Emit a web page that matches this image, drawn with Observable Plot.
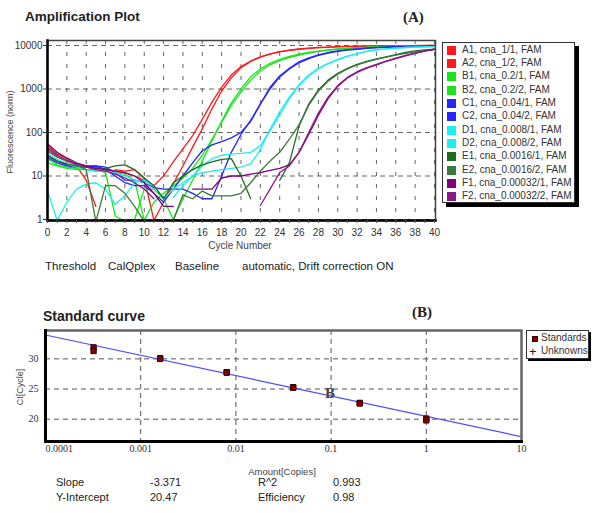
<!DOCTYPE html>
<html><head><meta charset="utf-8">
<script src="https://cdn.jsdelivr.net/npm/d3@7"></script>
<script src="https://cdn.jsdelivr.net/npm/@observablehq/plot@0.6"></script>
<style>
body{margin:0;background:#fff;}
#root{position:relative;width:592px;height:513px;overflow:hidden;font-family:"Liberation Sans",Arial,sans-serif;color:#222;}
.abs{position:absolute;white-space:nowrap;line-height:1;}
.serif{font-family:"Liberation Serif","Times New Roman",serif;}
.legA{position:absolute;left:442px;top:42px;width:131px;height:159px;border:1px solid #333;background:#fff;box-shadow:4px 4px 0 #000;}
.legB{position:absolute;left:526px;top:330px;width:61px;height:27px;border:1px solid #333;background:#fff;box-shadow:2px 2px 0 #000;}
</style></head><body><div id="root"></div>
<script>
// ---------- Panel A data ----------
const cycles = d3.range(0, 41);
const wellNames = ["A1","A2","B1","B2","C1","C2","D1","D2","E1","E2","F1","F2"];
const wellLabels = ["A1, cna_1/1, FAM","A2, cna_1/2, FAM","B1, cna_0.2/1, FAM","B2, cna_0.2/2, FAM","C1, cna_0.04/1, FAM","C2, cna_0.04/2, FAM","D1, cna_0.008/1, FAM","D2, cna_0.008/2, FAM","E1, cna_0.0016/1, FAM","E2, cna_0.0016/2, FAM","F1, cna_0.00032/1, FAM","F2, cna_0.00032/2, FAM"];
const wellColors = ["#ff1a1a","#ff1a1a","#19e619","#19e619","#2626ff","#2626ff","#19f0f0","#19f0f0","#1f6b1f","#3a7a3a","#800080","#8a1a8a"];
const A1 = [50,32,25,17,8,2,null,14,13,14,9,0.95,2.5,6.6,17,46,121,350,900,1800,3100,4300,5400,6300,7100,7700,8200,8600,8900,9100,9300,9450,9550,9650,9700,9750,9800,9850,9900,9950,10000];
const A2 = [38,27,22,19,17,16,14,13,12,10,8,6,10,21,42,85,200,500,1100,2100,3300,4400,5500,6400,7200,7800,8300,8700,9000,9200,9400,9500,9600,9700,9750,9800,9850,9900,9950,10000,10050];
const B1 = [20,17,15,14,14,13,13,12,11,8,0.95,2.5,4,6,9,15,30,70,170,420,850,1600,2600,3600,4500,5300,6000,6700,7300,7800,8200,8600,8900,9100,9300,9450,9550,9650,9750,9800,9850];
const B2 = [25,18,16,15,14,14,12,1.2,0.9,1,5,5,3,1,3,8,22,65,180,480,1000,1900,2900,3900,4800,5600,6300,6900,7400,7900,8300,8600,8900,9100,9300,9450,9550,9650,9750,9800,9850];
const C1 = [30,22,18,16,16,17,16,12,8,8,7,5.4,5,5,5,4,3,3,10,35,90,190,450,1100,2000,3000,4200,5200,6100,6900,7500,8000,8400,8700,9000,9200,9400,9500,9600,9700,9800];
const C2 = [27,20,17,16,17,17,14,10,7,6,6,4,2.5,5,10,20,38,52,62,75,100,180,450,1000,1900,2900,4000,5000,5900,6700,7300,7800,8200,8600,8900,9100,9300,9450,9550,9650,9750];
const D1 = [4.6,0.95,2.5,5,6.5,7,5,2.2,3.5,7,8,6,null,3.2,6,10,17,25,30,32,33,35,50,110,250,600,1200,2000,2900,3800,4700,5600,6400,7300,7900,8400,8700,9000,9200,9300,9400];
const D2 = [35,24,19,16,14,13,13,12,10,8,7,6,3,5,7,10,12,13,14,15,16,19,40,120,300,650,1250,2100,3000,3900,4800,5700,6500,7300,7900,8400,8700,9000,9200,9300,9400];
const E1 = [30,22,19,17,16,15,15,17,18,14,9,6,3,7,10,14,18,21,24,25,10,3,null,null,8,20,140,450,950,1600,2300,3000,3700,4300,4900,5500,6200,6900,7500,7900,8200];
const E2 = [42,28,22,18,14,0.9,6,6,4,2,0.9,null,null,0.95,3.7,3,4.5,3.5,3.5,3.5,4,7,13,22,35,70,150,420,900,1500,2200,2900,3600,4200,4800,5400,6000,6600,7100,7600,8000];
const F1 = [55,35,26,20,17,15,14,13,12,10,7,4,2,2,null,5,5,5,9,10,10,11,12,13.5,15,18,35,90,250,600,1150,1800,2400,3000,3600,4300,5000,5800,6600,7400,8200];
const F2 = [45,30,23,19,16,14,13,11,9,7,5,3,null,null,null,null,null,null,null,null,null,null,2.1,5,12,17,35,100,280,650,1200,1850,2500,3100,3700,4400,5100,5900,6700,7500,8300];
const xTicksA = d3.range(0, 41, 2);
const xMinorA = d3.range(0, 41, 1);
const yTicksA = [1, 10, 100, 1000, 10000];

// ---------- Panel B data ----------
const stdAmount = [0.00032,0.00032,0.0016,0.0016,0.008,0.008,0.04,0.04,0.2,0.2,1,1];
const stdCt = [31.9,31.3,30.1,30.0,27.8,27.7,25.3,25.2,22.7,22.6,20.1,19.8];
const slope = -3.371, intercept = 20.47;
const lineAmount = [0.0001, 10];
const xTicksB = [0.0001, 0.001, 0.01, 0.1, 1, 10];
const xTickLabelsB = ["0.0001","0.001","0.01","0.1","1","10"];
const yTicksB = [20, 25, 30];
const statsNames = ["Slope","Y-Intercept","R^2","Efficiency"];
const statsValues = ["-3.371","20.47","0.993","0.98"];

// ---------- build ----------
const root = document.getElementById("root");
function txt(s, css, cls){const d=document.createElement("div");d.className="abs"+(cls?" "+cls:"");d.textContent=s;d.style.cssText=css;root.appendChild(d);return d;}
function place(el, left, top){const w=document.createElement("div");w.style.cssText=`position:absolute;left:${left}px;top:${top}px;`;w.appendChild(el);root.appendChild(w);}

const series = [A1,A2,B1,B2,C1,C2,D1,D2,E1,E2,F1,F2];
const ampData = [];
series.forEach((arr, k) => arr.forEach((v, i) => ampData.push({well: wellNames[k], cycle: cycles[i], value: v})));

const plotA = Plot.plot({
  width: 445, height: 240, marginLeft: 47, marginRight: 10, marginTop: 10, marginBottom: 50,
  x: {domain: [0, 40], range: [47, 434], label: null},
  y: {type: "log", domain: [1, 10000], range: [189, 15], label: null},
  color: {domain: wellNames, range: wellColors},
  style: {fontFamily: "Liberation Sans, Arial, sans-serif", fontSize: "10px", color: "#333", background: "transparent", overflow: "visible"},
  marks: [
    Plot.gridX(xTicksA, {stroke: "#666", strokeOpacity: 1, strokeDasharray: "4,8", strokeWidth: 1}),
    Plot.gridY(yTicksA, {stroke: "#666", strokeOpacity: 1, strokeDasharray: "5,4", strokeWidth: 1}),
    Plot.line(ampData, {x: "cycle", y: "value", z: "well", stroke: "well", strokeWidth: 1.3, clip: true}),
    Plot.frame({stroke: "#444", strokeWidth: 1.5}),
    Plot.frame({anchor: "left", stroke: "#000", strokeWidth: 2.5}),
    Plot.frame({anchor: "bottom", stroke: "#000", strokeWidth: 2.5}),
    Plot.axisY(yTicksA, {tickFormat: d => String(d), tickSize: 4, tickPadding: 1, fontSize: 10, stroke: "#333"}),
    Plot.axisX(xMinorA, {tickFormat: () => "", tickSize: 3, tickPadding: 0, stroke: "#555"}),
    Plot.axisX(xTicksA, {tickSize: 0, tickPadding: 8, fontSize: 10})
  ]
});
place(plotA, 0, 30);

const standards = stdAmount.map((a, i) => ({amount: a, ct: stdCt[i]}));
const regLine = lineAmount.map(a => ({amount: a, ct: slope * Math.log10(a) + intercept}));
const labB = new Map(xTicksB.map((t, i) => [t, xTickLabelsB[i]]));

const plotB = Plot.plot({
  width: 530, height: 160, marginLeft: 45, marginRight: 9, marginTop: 10, marginBottom: 39,
  x: {type: "log", domain: [0.0001, 10], label: null},
  y: {domain: [16.3, 34.7], label: null},
  style: {fontFamily: "Liberation Serif, Times New Roman, serif", fontSize: "10px", color: "#333", background: "transparent", overflow: "visible"},
  marks: [
    Plot.gridX(xTicksB, {stroke: "#555", strokeOpacity: 1, strokeDasharray: "5,4"}),
    Plot.gridY(yTicksB, {stroke: "#555", strokeOpacity: 1, strokeDasharray: "5,4"}),
    Plot.line(regLine, {x: "amount", y: "ct", stroke: "#4d4dff", strokeWidth: 1.2, clip: true}),
    Plot.dot(standards, {x: "amount", y: "ct", symbol: "square", r: 3, fill: "#8b0000", stroke: "#300", strokeWidth: 1}),
    Plot.frame({stroke: "#666", strokeWidth: 2.5}),
    Plot.frame({anchor: "left", stroke: "#000", strokeWidth: 3}),
    Plot.frame({anchor: "bottom", stroke: "#000", strokeWidth: 3}),
    Plot.axisY(yTicksB, {tickSize: 0, tickPadding: 7, fontSize: 10}),
    Plot.axisX(xTicksB.slice(0, 1), {tickSize: 0, tickPadding: 3, fontSize: 10, textAnchor: "start", tickFormat: d => labB.get(d)}),
    Plot.axisX(xTicksB.slice(1), {tickSize: 0, tickPadding: 3, fontSize: 10, tickFormat: d => labB.get(d)})
  ]
});
place(plotB, 0, 320);

// ---------- texts ----------
txt("Amplification Plot", "left:25px;top:10px;font-size:13.5px;font-weight:bold;color:#222;");
txt("(A)", "left:403px;top:10px;font-size:15px;font-weight:bold;color:#222;", "serif");
txt("Fluorescence (norm)", "left:10px;top:132px;font-size:9px;color:#444;transform:translate(-50%,-50%) rotate(-90deg);");
txt("Cycle Number", "left:240px;top:246px;font-size:10px;color:#444;transform:translate(-50%,-50%);");
txt("Threshold", "left:45px;top:261px;font-size:11.5px;color:#222;");
txt("CalQplex", "left:108px;top:261px;font-size:11.5px;color:#222;");
txt("Baseline", "left:175px;top:261px;font-size:11.5px;color:#222;");
txt("automatic, Drift correction ON", "left:242px;top:261px;font-size:11.5px;color:#222;");

const legA = document.createElement("div"); legA.className = "legA"; root.appendChild(legA);
wellLabels.forEach((lab, i) => {
  const y = 49.3 + i * 13.3 - 42;
  const sw = document.createElement("div");
  sw.style.cssText = `position:absolute;left:4px;top:${y - 4.5}px;width:9px;height:9px;background:${wellColors[i]};`;
  legA.appendChild(sw);
  const t = document.createElement("div");
  t.className = "abs"; t.textContent = lab;
  t.style.cssText = `left:19px;top:${y - 5.5}px;font-size:10px;color:#333;`;
  legA.appendChild(t);
});

txt("Standard curve", "left:43px;top:309px;font-size:14px;font-weight:bold;color:#222;");
txt("(B)", "left:412px;top:305px;font-size:15px;font-weight:bold;color:#222;", "serif");
txt("Ct[Cycle]", "left:20px;top:387px;font-size:9px;color:#444;transform:translate(-50%,-50%) rotate(-90deg);");
txt("Amount[Copies]", "left:282px;top:472px;font-size:9.5px;color:#444;transform:translate(-50%,-50%);");
txt("B", "left:325px;top:386px;font-size:15px;font-weight:bold;color:#444;", "serif");

const legB = document.createElement("div"); legB.className = "legB"; root.appendChild(legB);
legB.innerHTML = `<div style="position:absolute;left:5px;top:5px;width:4px;height:4px;background:#8b0000;border:1px solid #300;"></div>
<div class="abs" style="left:14px;top:2px;font-size:10px;color:#333;">Standards</div>
<div class="abs" style="left:2px;top:14px;font-size:13px;color:#222;">+</div>
<div class="abs" style="left:14px;top:15px;font-size:10px;color:#333;">Unknowns</div>`;

const statX = [56, 150, 258, 333];
txt(statsNames[0], `left:${statX[0]}px;top:477px;font-size:11px;`);
txt(statsValues[0], `left:${statX[1]}px;top:477px;font-size:11px;`);
txt(statsNames[2], `left:${statX[2]}px;top:477px;font-size:11px;`);
txt(statsValues[2], `left:${statX[3]}px;top:477px;font-size:11px;`);
txt(statsNames[1], `left:${statX[0]}px;top:492px;font-size:11px;`);
txt(statsValues[1], `left:${statX[1]}px;top:492px;font-size:11px;`);
txt(statsNames[3], `left:${statX[2]}px;top:492px;font-size:11px;`);
txt(statsValues[3], `left:${statX[3]}px;top:492px;font-size:11px;`);
</script></body></html>
